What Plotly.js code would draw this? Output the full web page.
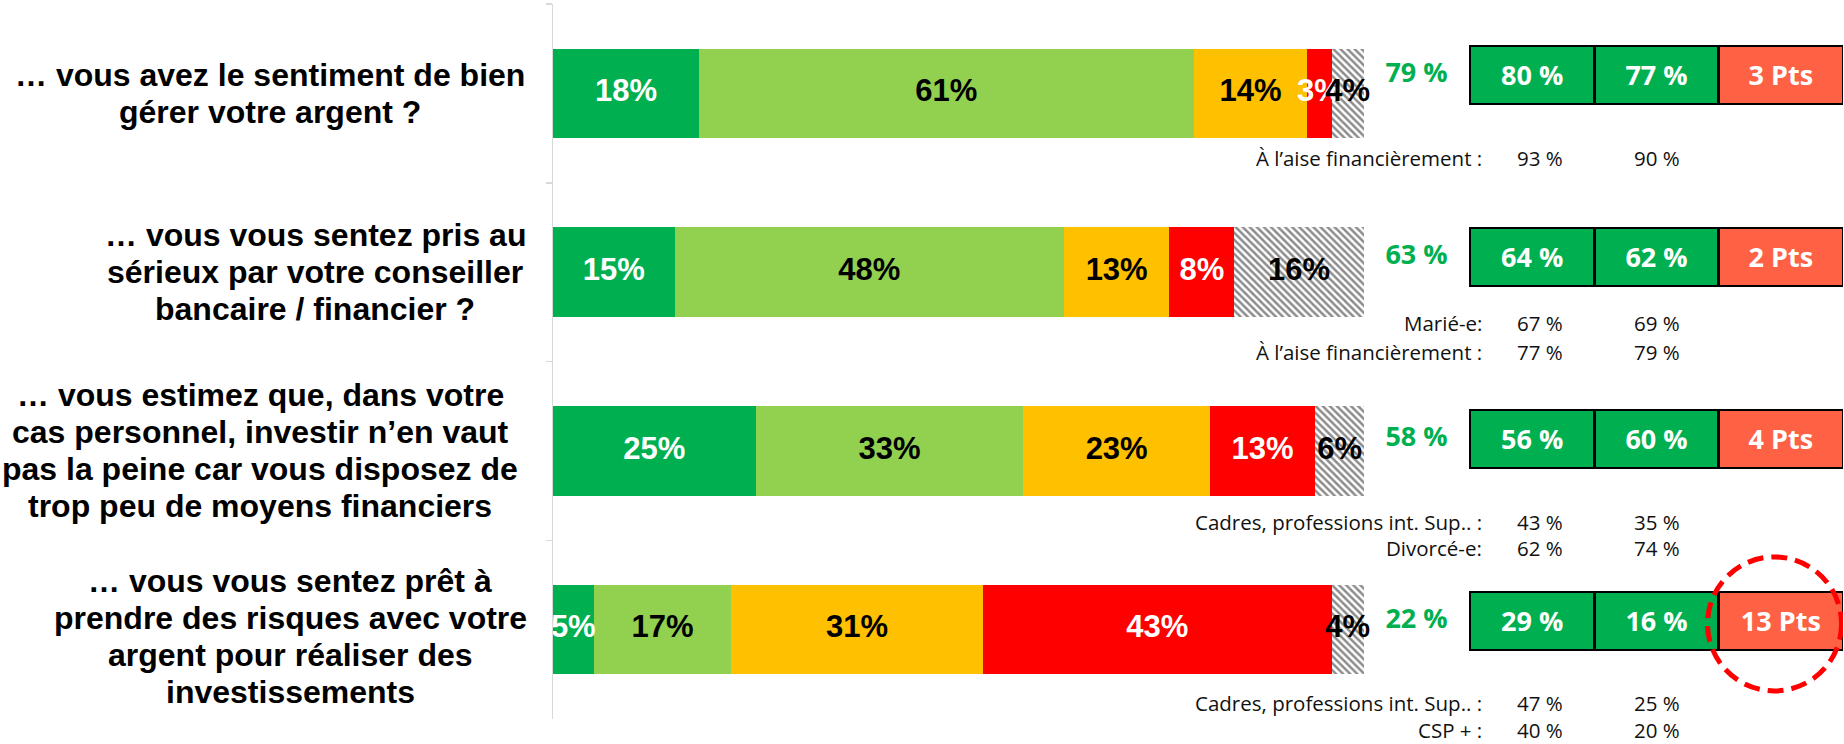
<!DOCTYPE html>
<html><head><meta charset="utf-8">
<script src="https://cdn.plot.ly/plotly-3.0.1.min.js"></script>
<style>html,body{margin:0;padding:0;background:#fff;} #chart{width:1844px;height:744px;}</style>
</head><body><div id="chart"></div>
<script>
// ---------- DATA ----------
const questionLines = [
  ["… vous avez le sentiment de bien", "gérer votre argent ?"],
  ["… vous vous sentez pris au", "sérieux par votre conseiller", "bancaire / financier ?"],
  ["… vous estimez que, dans votre", "cas personnel, investir n’en vaut", "pas la peine car vous disposez de", "trop peu de moyens financiers"],
  ["… vous vous sentez prêt à", "prendre des risques avec votre", "argent pour réaliser des", "investissements"]
];
const seriesNames = ["Oui, tout à fait", "Oui, plutôt", "Non, plutôt pas", "Non, pas du tout", "Ne se prononce pas"];
const valToutAFait = [18, 15, 25, 5];
const valPlutot    = [61, 48, 33, 17];
const valPlutotPas = [14, 13, 23, 31];
const valPasDuTout = [3, 8, 13, 43];
const valNsp       = [4, 16, 6, 4];

const totalOui  = [79, 63, 58, 22];
const groupA    = [80, 64, 56, 29];
const groupB    = [77, 62, 60, 16];
const ecartPts  = [3, 2, 4, 13];

const subLabels = [
  ["À l’aise financièrement :"],
  ["Marié-e:", "À l’aise financièrement :"],
  ["Cadres, professions int. Sup.. :", "Divorcé-e:"],
  ["Cadres, professions int. Sup.. :", "CSP + :"]
];
const subA = [[93], [67, 77], [43, 62], [47, 40]];
const subB = [[90], [69, 79], [35, 74], [25, 20]];

// ---------- STYLE / LAYOUT ----------
const W = 1844, H = 744, L = 553, T = 4, B = 25;
const plotW = W - L;
const px2paper = px => (px - L) / plotW;
const seriesColors = ["#00B050", "#92D050", "#FFC000", "#FF0000", "#FFFFFF"];
const labelColors = ["#FFFFFF", "#000000", "#000000", "#FFFFFF", "#000000"];
const labelCenterX = [270, 315, 260, 290];
const labelShiftY = [0, 0, 0, -7];
const subDy = [[0.454], [0.363, 0.52], [0.454, 0.597], [0.449, 0.6]];
const rowPx = 182;
const cellUnit = (1843 - 1470) / 3;
const arialB = "'Liberation Sans', Arial, sans-serif";
const calib = "'Open Sans', 'Noto Sans', sans-serif";

const cats = questionLines.map(l => l.join(' '));
const seriesVals = [valToutAFait, valPlutot, valPlutotPas, valPasDuTout, valNsp];

const traces = [];
seriesVals.forEach((vals, s) => {
  const tr = {
    type: 'bar', orientation: 'h', name: seriesNames[s],
    x: vals, y: cats, xaxis: 'x', yaxis: 'y',
    marker: { color: seriesColors[s], line: { width: 0 } },
    hoverinfo: 'skip', showlegend: false
  };
  if (s === 4) {
    tr.marker.pattern = { shape: '\\', fgcolor: '#1a1a1a', bgcolor: '#ffffff', size: 5, solidity: 0.5, fillmode: 'overlay' };
  }
  traces.push(tr);
});
// labels of the stacked segments
const cum = cats.map(() => 0);
seriesVals.forEach((vals, s) => {
  const mids = vals.map((v, i) => { const m = cum[i] + v / 2; cum[i] += v; return m; });
  traces.push({
    type: 'scatter', mode: 'text', x: mids, y: cats, xaxis: 'x', yaxis: 'y',
    text: vals.map(v => v + '%'), textposition: 'middle center',
    textfont: { family: arialB, size: 31, color: labelColors[s], weight: 700 },
    cliponaxis: s === 0, hoverinfo: 'skip', showlegend: false
  });
});

// table
const rowIdx = cats.map((c, i) => i);
const tableCols = [
  { vals: groupA, color: '#00B050', fmt: v => v + ' %' },
  { vals: groupB, color: '#00B050', fmt: v => v + ' %' },
  { vals: ecartPts, color: '#FF6144', fmt: v => v + ' Pts' }
];
tableCols.forEach(col => {
  traces.push({
    type: 'bar', orientation: 'h', x: col.vals.map(() => 1), y: rowIdx,
    xaxis: 'x2', yaxis: 'y2', width: 58.5 / rowPx,
    marker: { color: col.color, line: { color: '#000', width: 2.4 } },
    text: col.vals.map(col.fmt), textposition: 'inside', insidetextanchor: 'middle',
    textfont: { family: calib, size: 27, color: '#fff', weight: 700 },
    textangle: 0, constraintext: 'none',
    hoverinfo: 'skip', showlegend: false
  });
});
traces.push({
  type: 'scatter', mode: 'text', x: totalOui.map(() => -0.43), y: rowIdx,
  xaxis: 'x2', yaxis: 'y2', text: totalOui.map(v => v + ' %'),
  textfont: { family: calib, size: 27, color: '#00B050', weight: 700 },
  cliponaxis: false, hoverinfo: 'skip', showlegend: false
});

const annotations = [];
questionLines.forEach((lines, i) => {
  const n = lines.length;
  lines.forEach((ln, k) => {
    annotations.push({
      xref: 'paper', yref: 'y', x: px2paper(labelCenterX[i]), y: cats[i],
      yshift: ((n - 1) / 2 - k) * 37 + labelShiftY[i], xanchor: 'center', yanchor: 'middle',
      text: ln, showarrow: false,
      font: { family: arialB, size: 32, color: '#000', weight: 700 }
    });
  });
});
subLabels.forEach((lbls, i) => {
  lbls.forEach((lb, j) => {
    const yy = i + subDy[i][0];
    const ys = -(subDy[i][j] - subDy[i][0]) * rowPx;
    const f = { family: calib, size: 20.5, color: '#111' };
    annotations.push({ xref: 'x2', yref: 'y2', x: 0.11, y: yy, yshift: ys, xanchor: 'right', yanchor: 'middle', text: lb, showarrow: false, font: f });
    annotations.push({ xref: 'x2', yref: 'y2', x: 0.56, y: yy, yshift: ys, xanchor: 'center', yanchor: 'middle', text: subA[i][j] + ' %', showarrow: false, font: f });
    annotations.push({ xref: 'x2', yref: 'y2', x: 1.5, y: yy, yshift: ys, xanchor: 'center', yanchor: 'middle', text: subB[i][j] + ' %', showarrow: false, font: f });
  });
});

const maxIdx = ecartPts.indexOf(Math.max(...ecartPts));
const shapes = [{
  type: 'circle', xref: 'x2', yref: 'y2', xsizemode: 'pixel', ysizemode: 'pixel',
  xanchor: 2 + (1774.5 - 1470 - 2 * cellUnit) / cellUnit, yanchor: maxIdx + 0.016,
  x0: -67, x1: 67, y0: -67, y1: 67,
  line: { color: '#FF0000', width: 5, dash: '16px,8px' }, fillcolor: 'rgba(0,0,0,0)', layer: 'above'
}];

const layout = {
  width: W, height: H,
  margin: { l: L, r: 0, t: T, b: B, pad: 0 },
  paper_bgcolor: '#fff', plot_bgcolor: 'rgba(0,0,0,0)',
  barmode: 'stack', bargap: 0.5, showlegend: false,
  xaxis: { domain: [0, px2paper(1364)], range: [0, 100], visible: false, fixedrange: true },
  yaxis: {
    type: 'category', categoryorder: 'array', categoryarray: cats, autorange: 'reversed',
    showline: true, linecolor: '#d9d9d9', linewidth: 1.5, ticks: 'outside', tickson: 'boundaries',
    ticklen: 6, tickcolor: '#d9d9d9', tickwidth: 1.5, showticklabels: false, showgrid: false, zeroline: false
  },
  xaxis2: { domain: [px2paper(1470 - 0.8 * cellUnit), px2paper(1843)], range: [-0.8, 3], anchor: 'y2', visible: false },
  yaxis2: { domain: [0, 1], range: [3.5385, -0.390], anchor: 'x2', visible: false },
  annotations: annotations,
  shapes: shapes
};

Plotly.newPlot('chart', traces, layout, { displayModeBar: false, staticPlot: true });
</script>
</body></html>
